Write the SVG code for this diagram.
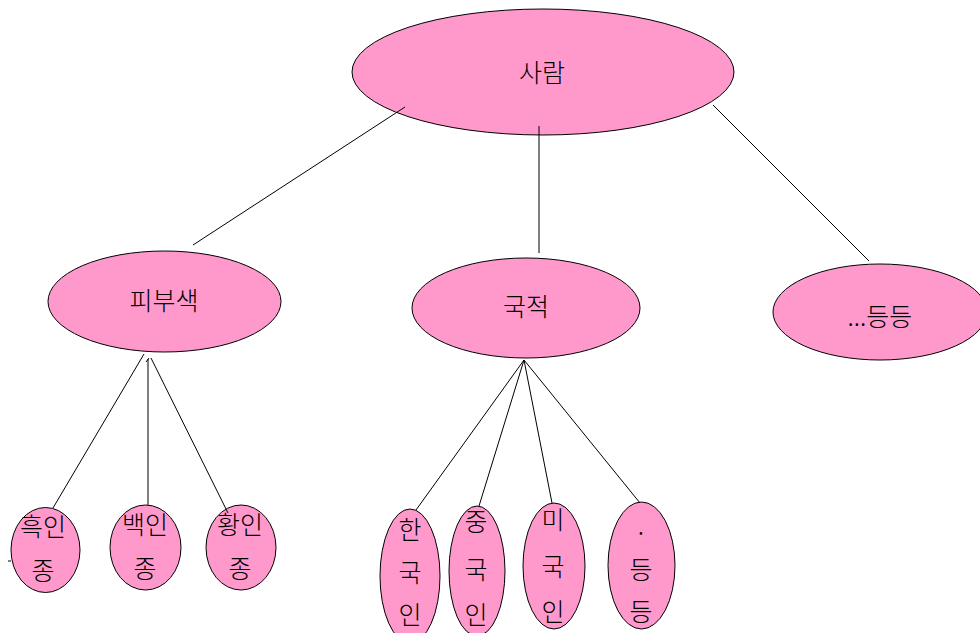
<svg xmlns="http://www.w3.org/2000/svg" width="980" height="633" viewBox="0 0 980 633">
<style>
.n{fill:#ff99cc;stroke:#000;stroke-width:1}
.t{font-family:"Noto Sans CJK KR","Noto Sans",sans-serif;font-size:25px;font-weight:300;fill:#000;text-anchor:middle}
.c line{stroke:#000;stroke-width:1}
</style>
<rect width="980" height="633" fill="#fff"/>
<g id="n-saram"><ellipse class="n" cx="543" cy="72" rx="191" ry="63"/><text class="t" x="542" y="82">사람</text></g>
<g id="n-pibu"><ellipse class="n" cx="164.5" cy="301.5" rx="116.5" ry="50.5"/><text class="t" x="164" y="310">피부색</text></g>
<g id="n-gukjeok"><ellipse class="n" cx="526" cy="308" rx="114" ry="50"/><text class="t" x="526" y="316">국적</text></g>
<g id="n-etc"><ellipse class="n" cx="880" cy="312" rx="107" ry="48"/><text class="t" x="880" y="326">...등등</text></g>
<g id="n-black"><ellipse class="n" cx="45.5" cy="550" rx="34.5" ry="42.5"/><text class="t" x="43" y="536">흑인</text><text class="t" x="43" y="580">종</text></g>
<g id="n-white"><ellipse class="n" cx="145.5" cy="547.5" rx="35.5" ry="42.5"/><text class="t" x="145" y="534">백인</text><text class="t" x="145" y="578">종</text></g>
<g id="n-yellow"><ellipse class="n" cx="241" cy="547.5" rx="35" ry="42.5"/><text class="t" x="240" y="534">황인</text><text class="t" x="240" y="578">종</text></g>
<g id="n-korean"><ellipse class="n" cx="410" cy="576" rx="30" ry="67"/><text class="t" x="410" y="539">한</text><text class="t" x="410" y="582">국</text><text class="t" x="410" y="624">인</text></g>
<g id="n-chinese"><ellipse class="n" cx="477" cy="571" rx="28" ry="65"/><text class="t" x="476" y="531">중</text><text class="t" x="476" y="579">국</text><text class="t" x="476" y="624">인</text></g>
<g id="n-american"><ellipse class="n" cx="554" cy="566" rx="31" ry="63"/><text class="t" x="553" y="529">미</text><text class="t" x="553" y="576">국</text><text class="t" x="553" y="621">인</text></g>
<g id="n-etc2"><ellipse class="n" cx="641.5" cy="565.5" rx="33.5" ry="63.5"/><text class="t" x="641" y="542">·</text><text class="t" x="641" y="579">등</text><text class="t" x="641" y="621">등</text></g>
<g class="c" id="connectors">
<line x1="405" y1="107" x2="193" y2="245"/>
<line x1="539" y1="126" x2="539" y2="253"/>
<line x1="713" y1="105" x2="869" y2="261"/>
<line x1="144" y1="354" x2="53" y2="508"/>
<line x1="148" y1="359" x2="148" y2="505"/>
<line x1="146" y1="362" x2="149" y2="358"/>
<line x1="151" y1="358" x2="228" y2="513"/>
<line x1="524" y1="360" x2="416" y2="510"/>
<line x1="524" y1="360" x2="479" y2="506"/>
<line x1="524" y1="360" x2="552" y2="503"/>
<line x1="524" y1="360" x2="640" y2="503"/>
<line x1="8" y1="561" x2="11" y2="561"/>
</g>
</svg>
